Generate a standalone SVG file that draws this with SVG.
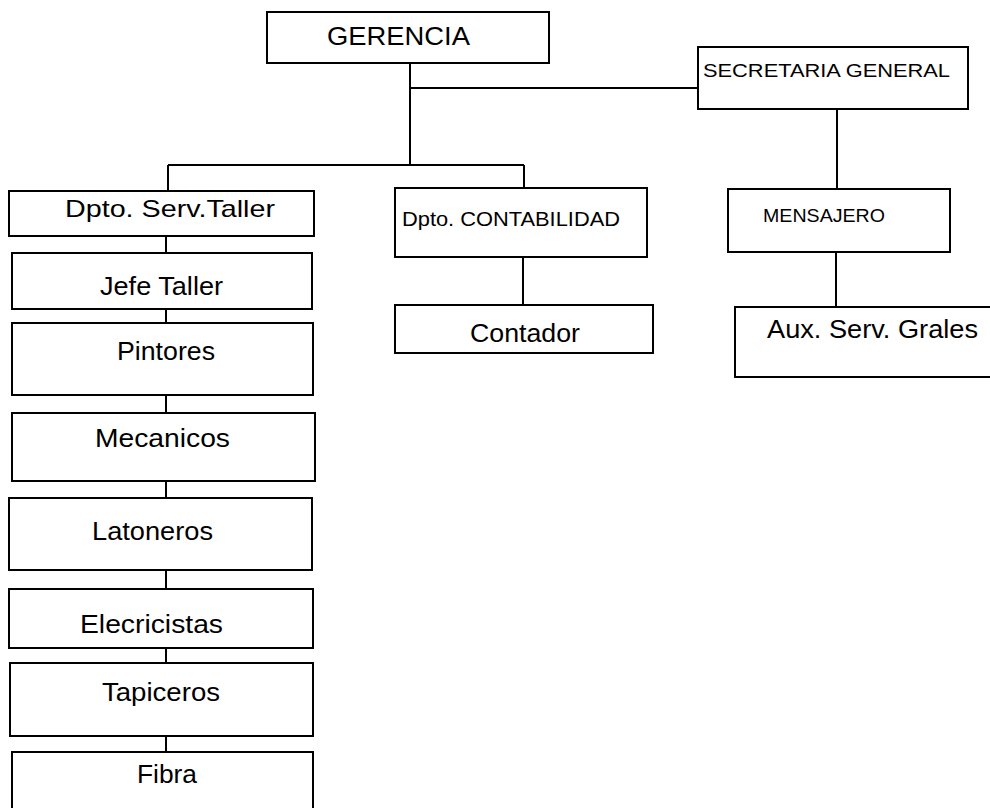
<svg xmlns="http://www.w3.org/2000/svg" width="990" height="808" viewBox="0 0 990 808">
<style>
.box{fill:#fff;stroke:#000;stroke-width:2}
.ln{fill:none;stroke:#000;stroke-width:2}
text{font-family:"Liberation Sans",Arial,sans-serif;fill:#000}
.big{font-size:25px}
.sm{font-size:19px}
</style>
<rect width="990" height="808" fill="#fff"/>
<g id="connectors">
<path class="ln" d="M410,63V165M410,88H698M168,165H524M168,165V191M524,165V188M837,109V189M523,257V305M836,252V307"/>
<path class="ln" d="M166,236V253M166,309V323M166,395V413M166,481V498M166,570V589M166,648V663M166,736V752"/>
</g>
<g id="gerencia"><rect class="box" x="267" y="12" width="282" height="51"/><text class="big" x="327" y="45" textLength="143" lengthAdjust="spacingAndGlyphs">GERENCIA</text></g>
<g id="secretaria"><rect class="box" x="698" y="47" width="270" height="62"/><text class="sm" x="703" y="77" textLength="247" lengthAdjust="spacingAndGlyphs">SECRETARIA GENERAL</text></g>
<g id="taller"><rect class="box" x="9" y="191" width="305" height="45"/><text style="font-size:24px" x="65" y="217" textLength="210" lengthAdjust="spacingAndGlyphs">Dpto. Serv.Taller</text></g>
<g id="contabilidad"><rect class="box" x="395" y="188" width="252" height="69"/><text style="font-size:21px" x="402" y="226" textLength="218" lengthAdjust="spacingAndGlyphs">Dpto. CONTABILIDAD</text></g>
<g id="mensajero"><rect class="box" x="728" y="189" width="222" height="63"/><text class="sm" x="763" y="222" textLength="122" lengthAdjust="spacingAndGlyphs">MENSAJERO</text></g>
<g id="contador"><rect class="box" x="395" y="305" width="258" height="48"/><text class="big" x="470" y="342" textLength="110" lengthAdjust="spacingAndGlyphs">Contador</text></g>
<g id="aux"><rect class="box" x="735" y="307" width="262" height="70"/><text class="big" x="767" y="338" textLength="211" lengthAdjust="spacingAndGlyphs">Aux. Serv. Grales</text></g>
<g id="jefe"><rect class="box" x="12" y="253" width="300" height="56"/><text class="big" x="100" y="295" textLength="123" lengthAdjust="spacingAndGlyphs">Jefe Taller</text></g>
<g id="pintores"><rect class="box" x="12" y="323" width="301" height="72"/><text class="big" x="117" y="360" textLength="98" lengthAdjust="spacingAndGlyphs">Pintores</text></g>
<g id="mecanicos"><rect class="box" x="12" y="413" width="303" height="68"/><text class="big" x="95" y="447" textLength="135" lengthAdjust="spacingAndGlyphs">Mecanicos</text></g>
<g id="latoneros"><rect class="box" x="9" y="498" width="303" height="72"/><text class="big" x="92" y="540" textLength="121" lengthAdjust="spacingAndGlyphs">Latoneros</text></g>
<g id="elecricistas"><rect class="box" x="9" y="589" width="304" height="59"/><text class="big" x="80" y="633" textLength="143" lengthAdjust="spacingAndGlyphs">Elecricistas</text></g>
<g id="tapiceros"><rect class="box" x="10" y="663" width="303" height="73"/><text class="big" x="102" y="701" textLength="118" lengthAdjust="spacingAndGlyphs">Tapiceros</text></g>
<g id="fibra"><rect class="box" x="12" y="752" width="301" height="64"/><text class="big" x="137" y="783" textLength="60" lengthAdjust="spacingAndGlyphs">Fibra</text></g>
</svg>
